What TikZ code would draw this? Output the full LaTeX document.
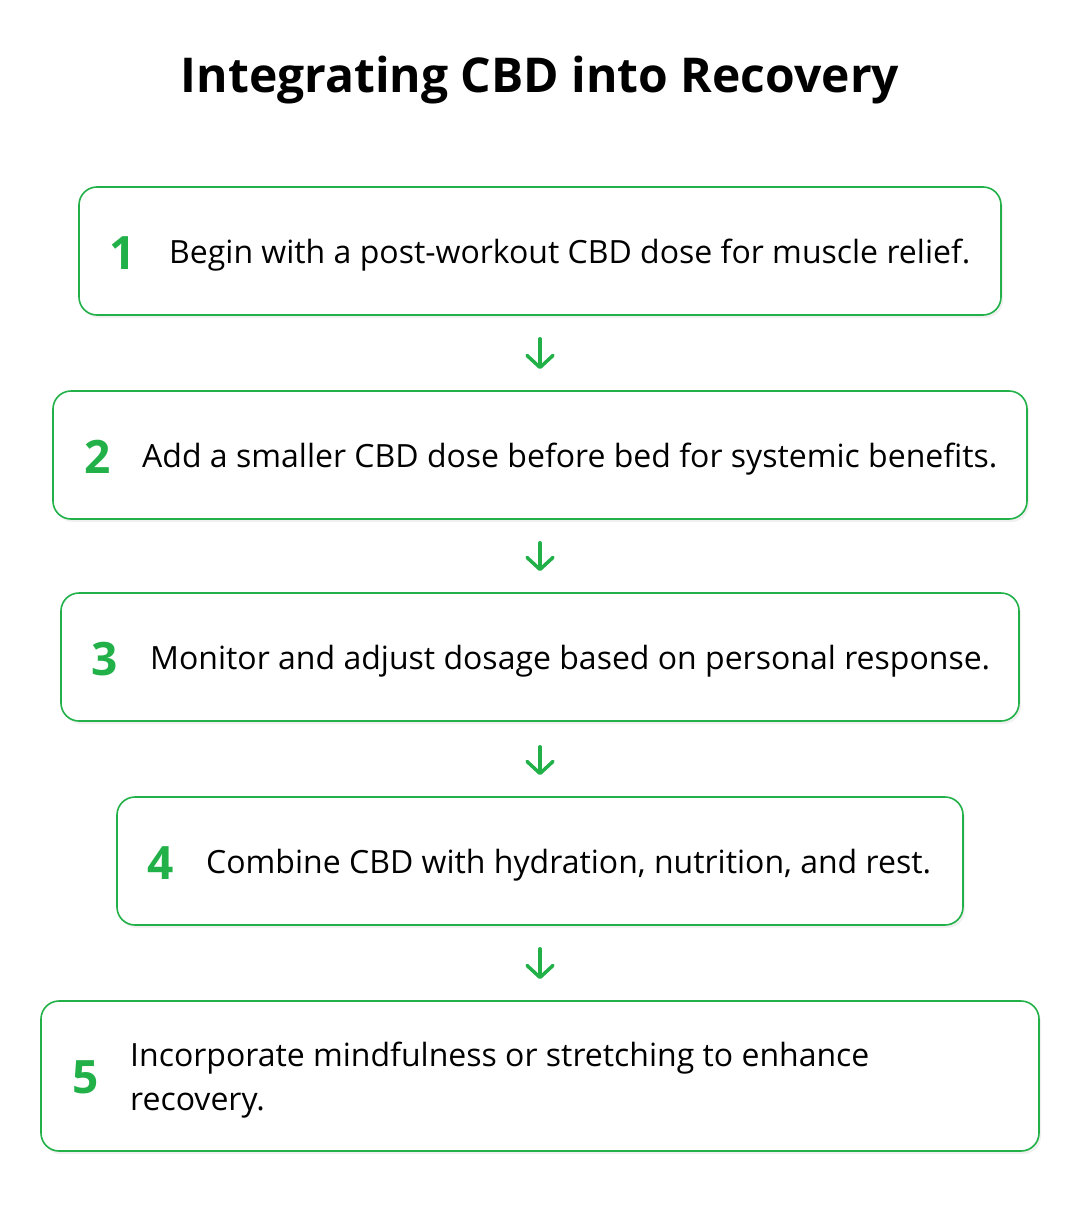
\documentclass[tikz,border=0pt]{standalone}
\usepackage{fontspec}
\setmainfont{Open Sans}
\usetikzlibrary{arrows.meta}
\definecolor{grn}{RGB}{34,176,72}
\tikzset{
  stepbox/.style={draw=grn, line width=1.6pt, rounded corners=18pt, fill=white, minimum height=128pt, inner sep=0pt},
  shadowbox/.style={fill=black!6, rounded corners=18pt, minimum height=128pt, inner sep=0pt},
  num/.style={text=grn, font=\fontsize{46}{50}\selectfont\bfseries, anchor=base, inner sep=0pt},
  txt/.style={text=black, font=\fontsize{32}{44}\selectfont, anchor=base west, inner sep=0pt, align=left},
  arr/.style={draw=grn, line width=3.5pt, line cap=round, line join=round, -{Straight Barb[length=12pt, width=26pt, line width=3.5pt, line cap=round, line join=round]}}
}
\begin{document}
\begin{tikzpicture}[x=1pt, y=-1pt]
\useasboundingbox (0,0) rectangle (1080,1212);
\node[font=\fontsize{48}{56}\selectfont\bfseries, anchor=base, inner sep=0pt] (title) at (540,93) {Integrating CBD into Recovery};

% shadows
\node[shadowbox, minimum width=922pt] at (542,254) {};
\node[shadowbox, minimum width=974pt] at (542,458) {};
\node[shadowbox, minimum width=958pt] at (542,660) {};
\node[shadowbox, minimum width=846pt] at (542,864) {};
\node[shadowbox, minimum width=998pt, minimum height=150pt] at (542,1079) {};

\node[stepbox, minimum width=922pt] (b1) at (540,251) {};
\node[stepbox, minimum width=974pt] (b2) at (540,455) {};
\node[stepbox, minimum width=958pt] (b3) at (540,657) {};
\node[stepbox, minimum width=846pt] (b4) at (540,861) {};
\node[stepbox, minimum width=998pt, minimum height=150pt] (b5) at (540,1076) {};

\node[num] (n1) at (123,269) {1};
\node[txt] (t1) at (169,263) {Begin with a post-workout CBD dose for muscle relief.};
\node[num] (n2) at (98,473) {2};
\node[txt] (t2) at (142,467) {Add a smaller CBD dose before bed for systemic benefits.};
\node[num] (n3) at (105,675) {3};
\node[txt] (t3) at (150,669) {Monitor and adjust dosage based on personal response.};
\node[num] (n4) at (161,879) {4};
\node[txt] (t4) at (206,873) {Combine CBD with hydration, nutrition, and rest.};
\node[num] (n5) at (86,1093) {5};
\node[txt] (t5) at (130,1110) {Incorporate mindfulness or stretching to enhance\\recovery.};

\draw[arr, shorten <=23pt, shorten >=21pt] (b1.south) -- (b2.north);
\draw[arr, shorten <=23pt, shorten >=21pt] (b2.south) -- (b3.north);
\draw[arr, shorten <=25pt, shorten >=21pt] (b3.south) -- (b4.north);
\draw[arr, shorten <=23pt, shorten >=21pt] (b4.south) -- (b5.north);
\end{tikzpicture}
\end{document}
